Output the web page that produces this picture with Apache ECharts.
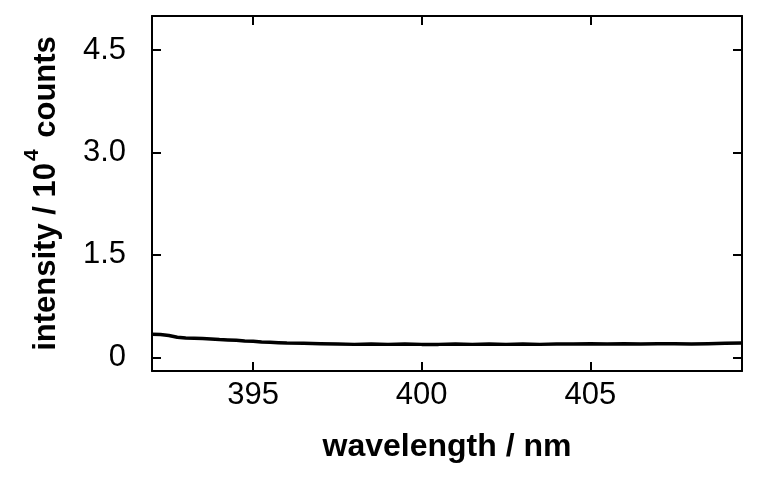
<!DOCTYPE html>
<html>
<head>
<meta charset="utf-8">
<script src="https://cdn.jsdelivr.net/npm/echarts@6/dist/echarts.min.js"></script>
<style>html,body{margin:0;padding:0;background:#fff}#c{width:762px;height:479px}</style>
</head>
<body>
<div id="c"></div>
<script>
// wavelength (nm)
var wavelengths = [392.0,392.25,392.5,392.75,393.0,393.25,393.5,393.75,394.0,394.25,394.5,394.75,395.0,395.25,395.5,395.75,396.0,396.5,397.0,397.5,398.0,398.5,399.0,399.5,400.0,400.5,401.0,401.5,402.0,402.5,403.0,403.5,404.0,404.5,405.0,405.5,406.0,406.5,407.0,407.5,408.0,408.5,409.0,409.5];
// intensity (10^4 counts)
var intensities = [0.34,0.335,0.32,0.295,0.285,0.28,0.275,0.27,0.26,0.255,0.25,0.24,0.235,0.225,0.22,0.215,0.21,0.205,0.2,0.195,0.19,0.195,0.19,0.195,0.19,0.19,0.195,0.19,0.195,0.19,0.195,0.19,0.195,0.195,0.2,0.195,0.2,0.195,0.2,0.2,0.195,0.2,0.205,0.21];
var xTicks = [395, 400, 405];
var yTicks = [0, 1.5, 3.0, 4.5];

var chart = echarts.init(document.getElementById('c'), null, {renderer: 'canvas'});
var font = 'Liberation Sans, Arial, sans-serif';
var lineStyle = {color: '#000', width: 2};
var data = wavelengths.map(function (w, i) { return [w, intensities[i]]; });

function yFmt(v) { return v === 0 ? '0' : v.toFixed(1); }

chart.setOption({
  animation: false,
  backgroundColor: '#fff',
  grid: {left: 152, right: 20, top: 16, bottom: 108},
  xAxis: [{
    type: 'value', min: 392, max: 409.5, position: 'bottom',
    name: 'wavelength / nm', nameLocation: 'middle', nameGap: 60,
    nameTextStyle: {fontFamily: font, fontWeight: 'bold', fontSize: 32, color: '#000'},
    axisLine: {show: true, onZero: false, lineStyle: lineStyle},
    axisTick: {show: true, inside: true, length: 9, lineStyle: lineStyle, customValues: xTicks},
    axisLabel: {show: true, margin: 9, fontFamily: font, fontSize: 31, color: '#000', customValues: xTicks},
    splitLine: {show: false}
  }, {
    type: 'value', min: 392, max: 409.5, position: 'top',
    axisLine: {show: true, onZero: false, lineStyle: lineStyle},
    axisTick: {show: true, inside: true, length: 9, lineStyle: lineStyle, customValues: xTicks},
    axisLabel: {show: false},
    splitLine: {show: false}
  }],
  yAxis: [{
    type: 'value', min: -0.2, max: 5.0, position: 'left',
    name: '{a|intensity / 10}{s|4}{a| counts}', nameLocation: 'middle', nameGap: 90, nameRotate: 90,
    nameTextStyle: {
      rich: {
        a: {fontFamily: font, fontWeight: 'bold', fontSize: 31, color: '#000', lineHeight: 40, verticalAlign: 'bottom'},
        s: {fontFamily: font, fontWeight: 'bold', fontSize: 21, color: '#000', lineHeight: 40, verticalAlign: 'top', padding: [0, 3, 0, 2]}
      }
    },
    axisLine: {show: true, onZero: false, lineStyle: lineStyle},
    axisTick: {show: true, inside: true, length: 9, lineStyle: lineStyle, customValues: yTicks},
    axisLabel: {show: true, margin: 26, fontFamily: font, fontSize: 31, color: '#000', customValues: yTicks, formatter: yFmt},
    splitLine: {show: false}
  }, {
    type: 'value', min: -0.2, max: 5.0, position: 'right',
    axisLine: {show: true, onZero: false, lineStyle: lineStyle},
    axisTick: {show: true, inside: true, length: 9, lineStyle: lineStyle, customValues: yTicks},
    axisLabel: {show: false},
    splitLine: {show: false}
  }],
  series: [{
    type: 'line', xAxisIndex: 0, yAxisIndex: 0, data: data,
    showSymbol: false, symbol: 'none', smooth: false,
    lineStyle: {color: '#000', width: 3.5}
  }]
});
</script>
</body>
</html>
